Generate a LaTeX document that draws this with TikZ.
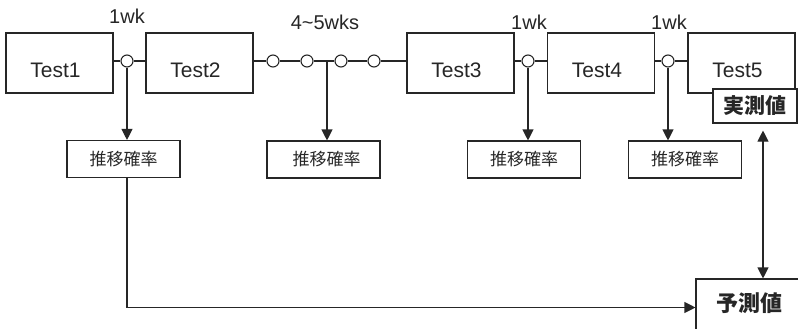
\documentclass[tikz,border=0pt]{standalone}
\usepackage{fontspec}
\setmainfont{Liberation Sans}
\newfontfamily\cjk{Noto Sans CJK JP}
\usetikzlibrary{arrows.meta}
\definecolor{ink}{HTML}{262626}
\tikzset{
  testbox/.style={draw=ink, line width=1.1pt, minimum width=107pt, minimum height=60pt,
    inner sep=0pt, font=\fontsize{21}{21}\selectfont, text=ink, text height=29.5pt, text depth=0pt,
    execute at begin node={\hspace*{-8pt}}},
  probbox/.style={draw=ink, line width=1.1pt, minimum width=113pt, minimum height=37pt,
    inner sep=0pt, font=\cjk\fontsize{17}{17}\selectfont, text=ink},
  valbox/.style={draw=ink, line width=1.1pt, fill=white, inner sep=0pt,
    font=\cjk\bfseries\fontsize{21}{21}\selectfont, text=ink},
  dot/.style={circle, draw=ink, line width=1.1pt, fill=white, minimum size=12pt, inner sep=0pt},
  wk/.style={font=\fontsize{20}{20}\selectfont, text=ink, inner sep=0pt},
  link/.style={draw=ink, line width=1.1pt},
  arr/.style={link, -{Triangle[length=11pt,width=11pt]}},
  darr/.style={link, {Triangle[length=11pt,width=11pt]}-{Triangle[length=11pt,width=11pt]}},
}
\begin{document}
\begin{tikzpicture}[x=1pt, y=-1pt]
\clip (0,0) rectangle (798,329);
\useasboundingbox (0,0) rectangle (798,329);

% test sessions
\node[testbox] (t1) at (59.5,63) {Test1};
\node[testbox] (t2) at (199.5,63) {Test2};
\node[testbox] (t3) at (460.5,63) {Test3};
\node[testbox] (t4) at (601,63) {Test4};
\node[testbox] (t5) at (741.5,63) {Test5};

% interval markers
\node[dot] (c1) at (127,61) {};
\node[dot] (c2a) at (273,61) {};
\node[dot] (c2b) at (307,61) {};
\node[dot] (c2c) at (341,61) {};
\node[dot] (c2d) at (374,61) {};
\node[dot] (c3) at (528,61) {};
\node[dot] (c4) at (668,61) {};
\coordinate (b2) at (327,61);

% interval labels
\node[wk] (w1) at (127,16) {1wk};
\node[wk] (w2) at (325,22) {4\char`\~5wks};
\node[wk] (w3) at (529,22) {1wk};
\node[wk] (w4) at (669,22) {1wk};

% transition probability boxes
\node[probbox] (p1) at (123.5,159) {推移確率};
\node[probbox] (p2) at (323.5,159.5) {\hspace*{6pt}推移確率};
\node[probbox] (p3) at (524,159.5) {推移確率};
\node[probbox] (p4) at (685,159.5) {推移確率};

% measured and predicted values
\node[valbox, minimum width=84pt, minimum height=34pt] (meas) at (755,106) {実測値};
\node[draw=ink, line width=1.1pt, minimum width=106pt, minimum height=70pt, inner sep=0pt] (pred) at (749,314) {};
\node[valbox, draw=none, fill=none, font=\cjk\bfseries\fontsize{22}{22}\selectfont] (predtext) at (749,303) {予測値};
\coordinate (dax) at (763,0);
\coordinate (py) at (0,307.5);

% timeline links
\draw[link] (c1 -| t1.east) -- (c1.west);
\draw[link] (c1.east) -- (c1 -| t2.west);
\draw[link] (c2a -| t2.east) -- (c2a.west);
\draw[link] (c2a.east) -- (c2b.west);
\draw[link] (c2b.east) -- (c2c.west);
\draw[link] (c2c.east) -- (c2d.west);
\draw[link] (c2d.east) -- (c2d -| t3.west);
\draw[link] (c3 -| t3.east) -- (c3.west);
\draw[link] (c3.east) -- (c3 -| t4.west);
\draw[link] (c4 -| t4.east) -- (c4.west);
\draw[link] (c4.east) -- (c4 -| t5.west);

% branches to transition probabilities
\draw[arr] (c1.south) -- (c1 |- p1.north);
\draw[arr] (b2) -- (b2 |- p2.north);
\draw[arr] (c3.south) -- (c3 |- p3.north);
\draw[arr] (c4.south) -- (c4 |- p4.north);

% prediction path and comparison
\draw[arr] (p1.south -| c1) |- (pred.west |- py);
\draw[darr, shorten <=7pt] (meas.south -| dax) -- (pred.north -| dax);
\end{tikzpicture}
\end{document}
